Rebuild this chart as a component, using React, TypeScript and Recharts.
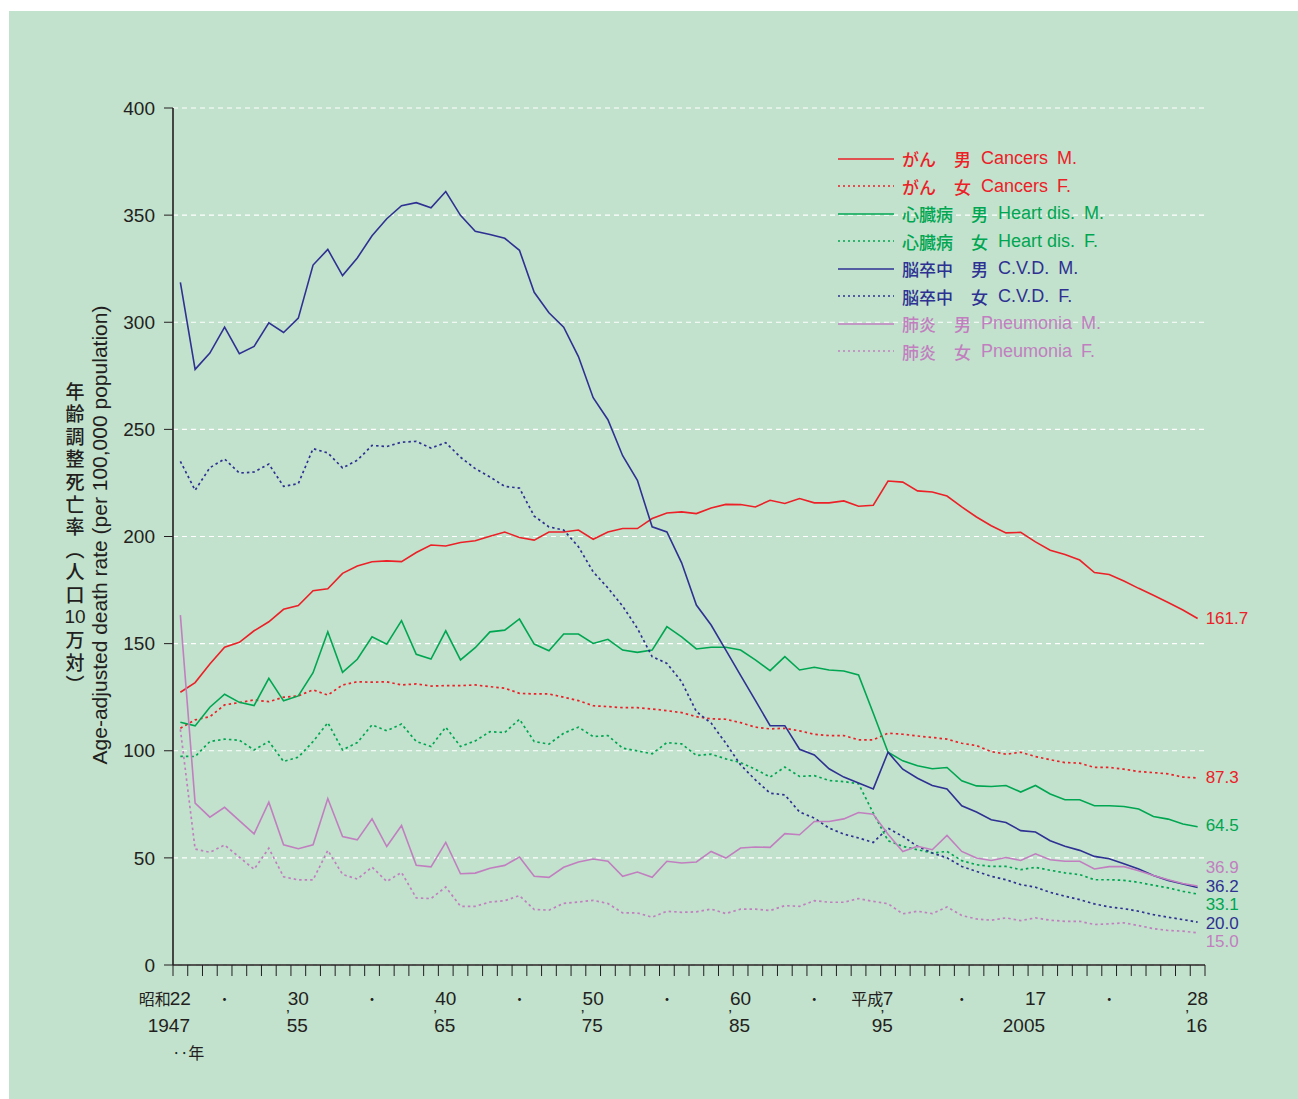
import React from "react";
import { LineChart, Line, XAxis, YAxis, CartesianGrid, Legend, LabelList } from "recharts";

// 1947 (昭和22) .. 2016 (平成28)
const years = Array.from({ length: 70 }, (_, i) => 1947 + i);

const cancerM = [
  127.3, 131.8, 140.5, 148.3, 150.6, 156, 160.2, 166, 167.8, 174.7,
  175.6, 182.8, 186.2, 188.2, 188.6, 188.3, 192.5, 196, 195.6, 197.2,
  198, 200.1, 202.1, 199.5, 198.3, 202.1, 202.1, 203, 198.7, 202.1,
  203.7, 203.7, 208.4, 211, 211.5, 210.7, 213.3, 215, 214.9, 213.8,
  216.9, 215.4, 217.7, 215.7, 215.7, 216.6, 214.1, 214.6, 225.9, 225.4,
  221.3, 220.8, 218.9, 213.8, 209.1, 205, 201.7, 201.9, 197.5, 193.6,
  191.6, 189, 183.2, 182.3, 179.2, 175.8, 172.6, 169.2, 165.7, 161.7,
];
const cancerF = [
  110.5, 114.4, 115.9, 121.4, 122.5, 123.7, 122.9, 125, 125.6, 128.4,
  126, 130.7, 132.2, 132, 132.2, 130.7, 131.2, 130.2, 130.4, 130.4,
  130.7, 129.9, 129.2, 126.8, 126.5, 126.5, 125, 123.4, 121, 120.6,
  120.1, 120.1, 119.5, 118.7, 117.8, 115.9, 114.9, 114.7, 113.1, 111,
  110.2, 110.5, 109.3, 107.7, 107.1, 107.1, 105.1, 105.1, 108.2, 107.7,
  106.9, 106.2, 105.4, 103.5, 102.4, 99.6, 98.4, 99.3, 97.3, 95.8,
  94.5, 94.2, 92.2, 92.2, 91.4, 90.3, 89.8, 89.2, 87.7, 87.3,
];
const heartM = [
  113.3, 111.6, 120.3, 126.4, 122.6, 121.1, 133.8, 123.3, 125.6, 136.4,
  155.5, 136.6, 142.7, 153.2, 149.7, 160.7, 145, 142.8, 156, 142.4,
  148.1, 155.5, 156.3, 161.5, 149.8, 146.7, 154.5, 154.5, 150.1, 152,
  147, 145.9, 147, 157.9, 153.2, 147.5, 148.3, 148.3, 147, 142.4,
  137.4, 143.9, 137.7, 139, 137.7, 137.2, 135.4, 117.5, 99.3, 95.3,
  93, 91.6, 92.2, 86, 83.6, 83.3, 83.8, 80.7, 83.8, 79.8,
  77.1, 77.1, 74.3, 74.3, 74, 72.8, 69.3, 68.1, 65.8, 64.5,
];
const heartF = [
  97.4, 97.3, 104.3, 105.4, 104.9, 100.4, 104.3, 95, 97, 104.3,
  113.1, 100.4, 103.8, 112.1, 109.3, 112.5, 104.3, 102, 111, 102,
  104.6, 108.9, 108.5, 114.7, 104.3, 103.1, 108.2, 111, 106.6, 107.1,
  101.2, 99.9, 98.6, 103.8, 103.2, 97.8, 98.4, 96.2, 94.5, 91.4,
  87.7, 92.4, 88, 88.4, 86.1, 85.6, 84.6, 70.9, 58, 55.4,
  53.8, 52.3, 53, 48.7, 46.8, 46, 46, 44.5, 45.6, 44.2,
  43, 42.2, 39.8, 39.8, 39.5, 38.6, 37.2, 36, 34.4, 33.1,
];
const cvdM = [
  318.6, 278, 285.6, 297.7, 285.3, 288.7, 299.7, 295.2, 301.9, 326.7,
  334, 321.8, 330, 340.4, 348.3, 354.4, 355.8, 353.4, 361, 349.9,
  342.5, 341, 339.2, 333.6, 314, 304.4, 297.7, 284, 264.8, 254.5,
  237.7, 226.2, 204.5, 202.1, 187.7, 168, 158.7, 147, 135.2, 123.5,
  111.7, 111.7, 100.7, 98, 91.6, 87.7, 84.9, 82.2, 99.3, 91.4,
  87.2, 83.8, 82.2, 74.3, 71.4, 67.8, 66.5, 62.7, 62.1, 58,
  55.4, 53.5, 50.7, 49.6, 47.3, 44.8, 41.8, 39.5, 37.8, 36.2,
];
const cvdF = [
  235.1, 221.6, 232.1, 236.2, 229.6, 230.1, 233.8, 223.4, 224.7, 241,
  239, 232, 235.6, 242.5, 242, 244, 244.4, 241.3, 243.8, 237,
  231.7, 227.8, 223.4, 222.6, 209.5, 204.5, 203, 195.2, 183.5, 176,
  167.5, 157.1, 143.9, 140.8, 132.2, 118.3, 112.9, 103.5, 93.4, 86.4,
  80.2, 79.4, 71.4, 68.6, 63.9, 61.1, 59.3, 57.2, 63.9, 60,
  55.4, 52.3, 50, 46, 43.7, 41.4, 39.8, 37.5, 36.3, 33.9,
  32.1, 30.5, 28.5, 27.1, 26.3, 25.1, 23.5, 22.3, 21.2, 20.0,
];
const pneuM = [
  163.3, 75.6, 69, 73.6, 67.4, 61.2, 76, 56.1, 54.3, 56.1,
  77.7, 60, 58.4, 68.2, 55.3, 65.1, 46.5, 45.8, 57.2, 42.6,
  42.9, 45.2, 46.5, 50.4, 41.4, 40.9, 45.6, 48.1, 49.5, 48.4,
  41.4, 43.4, 40.9, 48.4, 47.6, 48.1, 53, 49.9, 54.6, 55.1,
  54.9, 61.3, 60.8, 67, 67, 68.2, 71.2, 70.4, 61, 53,
  55.4, 53.8, 60.5, 53, 49.9, 48.8, 50.2, 48.8, 51.9, 49.1,
  48.4, 48.4, 44.8, 45.9, 45.9, 44, 41.8, 39.8, 38, 36.9,
];
const pneuF = [
  110, 54.1, 52.6, 56, 50.3, 44.7, 54.5, 41.2, 39.7, 39.7,
  53.5, 42.3, 40.1, 45.7, 39, 43.2, 31.3, 31, 36.4, 27.4,
  27.4, 29.4, 30, 32.4, 25.9, 25.6, 28.8, 29.4, 30.2, 28.7,
  24.3, 24.3, 22.3, 25.1, 24.6, 24.8, 26.1, 24, 26.1, 26.1,
  25.4, 27.7, 27.4, 30, 29.3, 29.3, 31, 29.7, 28.6, 23.9,
  25.1, 24, 27.1, 23.1, 21.5, 20.9, 22, 20.7, 22, 20.9,
  20.4, 20.4, 18.9, 19.2, 19.7, 18.4, 17, 16.1, 15.8, 15.0,
];

const yTicks = [0, 50, 100, 150, 200, 250, 300, 350, 400];

// x labels: era year on top, western year below
const labelYears = [1947, 1955, 1965, 1975, 1985, 1995, 2005, 2016];
const eraPrefix = ["昭和", "", "", "", "", "平成", "", ""];
const eraNum = ["22", "30", "40", "50", "60", "7", "17", "28"];
const westLabels = ["1947", "’55", "’65", "’75", "’85", "’95", "2005", "’16"];
const dotYears = [1950, 1960, 1970, 1980, 1990, 2000, 2010];

const RED = "#ec2027";
const GREEN = "#00a651";
const BLUE = "#2e3192";
const PINK = "#c17fc0";
const INK = "#231f20";

const SANS = "'Liberation Sans', 'Noto Sans CJK JP', sans-serif";
const NARROW = "'Liberation Sans Narrow', 'Liberation Sans', 'Noto Sans CJK JP', sans-serif";
const JP = "'Noto Sans CJK JP', sans-serif";

const series = [
  { key: "cancerM", values: cancerM, jp: "がん", sex: "男", en: "Cancers", sx: "M.", color: RED, dashed: false, dy: 0 },
  { key: "cancerF", values: cancerF, jp: "がん", sex: "女", en: "Cancers", sx: "F.", color: RED, dashed: true, dy: 0 },
  { key: "heartM", values: heartM, jp: "心臓病", sex: "男", en: "Heart dis.", sx: "M.", color: GREEN, dashed: false, dy: -1 },
  { key: "heartF", values: heartF, jp: "心臓病", sex: "女", en: "Heart dis.", sx: "F.", color: GREEN, dashed: true, dy: 10 },
  { key: "cvdM", values: cvdM, jp: "脳卒中", sex: "男", en: "C.V.D.", sx: "M.", color: BLUE, dashed: false, dy: -1 },
  { key: "cvdF", values: cvdF, jp: "脳卒中", sex: "女", en: "C.V.D.", sx: "F.", color: BLUE, dashed: true, dy: 1 },
  { key: "pneuM", values: pneuM, jp: "肺炎", sex: "男", en: "Pneumonia", sx: "M.", color: PINK, dashed: false, dy: -18 },
  { key: "pneuF", values: pneuF, jp: "肺炎", sex: "女", en: "Pneumonia", sx: "F.", color: PINK, dashed: true, dy: 9 },
];

const data = years.map((year, i) => {
  const row: Record<string, number> = { year };
  series.forEach((s) => {
    row[s.key] = s.values[i];
  });
  return row;
});

const boundaries = [...years, 2017].map((y) => y - 0.5);
const labelTicks = [...labelYears, ...dotYears].sort((a, b) => a - b);

function YearTick(props: any) {
  const { x, y, payload } = props;
  const i = labelYears.indexOf(payload.value);
  if (i < 0) {
    return (
      <text x={x} y={y + 25} textAnchor="middle" fontSize={14} fill={INK} fontFamily={JP}>
        ・
      </text>
    );
  }
  const num = eraNum[i];
  const half = num.length * 4.8;
  const west = westLabels[i];
  const apos = west.startsWith("’");
  const digits = apos ? west.slice(1) : west;
  return (
    <g fill={INK} fontFamily={NARROW} fontSize={19}>
      <text x={x} y={y + 26} textAnchor="middle">{num}</text>
      {eraPrefix[i] && (
        <text x={x - half} y={y + 26} textAnchor="end" fontFamily={JP} fontSize={16}>
          {eraPrefix[i]}
        </text>
      )}
      <text x={x + half} y={y + 53} textAnchor="end">{digits}</text>
      {apos && (
        <text x={x - half + 1} y={y + 43} textAnchor="end" fontSize={17}>’</text>
      )}
      {i === 0 && (
        <text x={x - 8} y={y + 80} fontFamily={JP} fontSize={16}>‥年</text>
      )}
    </g>
  );
}

const jpTitle = ["年", "齢", "調", "整", "死", "亡", "率", "︵", "人", "口", "10", "万", "対", "︶"];

function AxisTitle() {
  return (
    <g fill={INK}>
      <text
        transform="translate(90,524) rotate(-90)"
        textAnchor="middle"
        dominantBaseline="central"
        fontFamily={SANS}
        fontSize={21}
      >
        Age-adjusted death rate (per 100,000 population)
      </text>
      {jpTitle.map((c, i) => (
        <text
          key={i}
          x={66}
          y={379 + i * 22.6}
          dominantBaseline="central"
          textAnchor="middle"
          fontFamily={c === "10" ? SANS : JP}
          fontWeight={500}
          fontSize={19}
        >
          {c}
        </text>
      ))}
    </g>
  );
}

function LegendBox() {
  return (
    <div style={{ fontFamily: SANS, fontSize: 18 }}>
      {series.map((s) => (
        <div
          key={s.key}
          style={{ display: "flex", alignItems: "center", height: 27.5, color: s.color, whiteSpace: "nowrap" }}
        >
          <svg width={56} height={4} style={{ marginRight: 8 }}>
            <line
              x1={0}
              y1={2}
              x2={56}
              y2={2}
              stroke={s.color}
              strokeWidth={1.5}
              strokeDasharray={s.dashed ? "2 3" : undefined}
            />
          </svg>
          <span style={{ fontFamily: JP, fontSize: 17, fontWeight: 500, marginRight: 18 }}>{s.jp}</span>
          <span style={{ fontFamily: JP, fontSize: 17, fontWeight: 500, marginRight: 10 }}>{s.sex}</span>
          <span style={{ marginRight: 9 }}>{s.en}</span>
          <span>{s.sx}</span>
        </div>
      ))}
    </div>
  );
}

function endLabel(color: string, dy: number) {
  return (p: any) => {
    if (p.index !== years.length - 1) return null;
    return (
      <text
        x={p.x + 8}
        y={p.y + dy}
        dominantBaseline="central"
        fill={color}
        fontSize={17}
        fontFamily={SANS}
      >
        {Number(p.value).toFixed(1)}
      </text>
    );
  };
}

export default function App() {
  return (
    <div style={{ position: "absolute", left: 0, top: 0, width: 1298, height: 1099, overflow: "hidden", background: "#fff" }}>
      <div style={{ position: "absolute", left: 9, top: 11, width: 1289, height: 1088, background: "#c2e2cd" }}>
        <LineChart
          width={1289}
          height={1088}
          data={data}
          margin={{ top: 97, right: 93, bottom: 20, left: 104 }}
        >
          <CartesianGrid
            xAxisId={0}
            vertical={false}
            stroke="#ffffff"
            strokeDasharray="5 4"
            strokeWidth={1.2}
          />
          <XAxis
            xAxisId={0}
            dataKey="year"
            type="number"
            domain={[1946.5, 2016.5]}
            ticks={boundaries}
            interval={0}
            tickFormatter={() => ""}
            tickSize={11}
            height={14}
            axisLine={{ stroke: INK, strokeWidth: 1.6 }}
            tickLine={{ stroke: INK, strokeWidth: 1 }}
          />
          <XAxis
            xAxisId={1}
            dataKey="year"
            type="number"
            domain={[1946.5, 2016.5]}
            ticks={labelTicks}
            interval={0}
            axisLine={false}
            tickLine={false}
            tickSize={0}
            tickMargin={0}
            height={100}
            tick={<YearTick />}
          />
          <YAxis
            type="number"
            domain={[0, 400]}
            ticks={yTicks}
            interval={0}
            width={60}
            tickSize={9}
            tickMargin={9}
            axisLine={{ stroke: INK, strokeWidth: 1.6 }}
            tickLine={{ stroke: INK, strokeWidth: 1 }}
            tick={{ fill: INK, fontSize: 19, fontFamily: NARROW }}
            label={{ content: () => <AxisTitle /> }}
          />
          <Legend
            layout="vertical"
            align="center"
            verticalAlign="middle"
            content={() => <LegendBox />}
            wrapperStyle={{ position: "absolute", left: 829, top: 134, width: 320, height: 230 }}
          />
          {series.map((s) => (
            <Line
              key={s.key}
              xAxisId={0}
              type="linear"
              dataKey={s.key}
              stroke={s.color}
              strokeWidth={s.dashed ? 1.7 : 1.6}
              strokeDasharray={s.dashed ? "2.5 3" : undefined}
              dot={false}
              isAnimationActive={false}
            >
              <LabelList dataKey={s.key} content={endLabel(s.color, s.dy)} />
            </Line>
          ))}
        </LineChart>
      </div>
    </div>
  );
}
